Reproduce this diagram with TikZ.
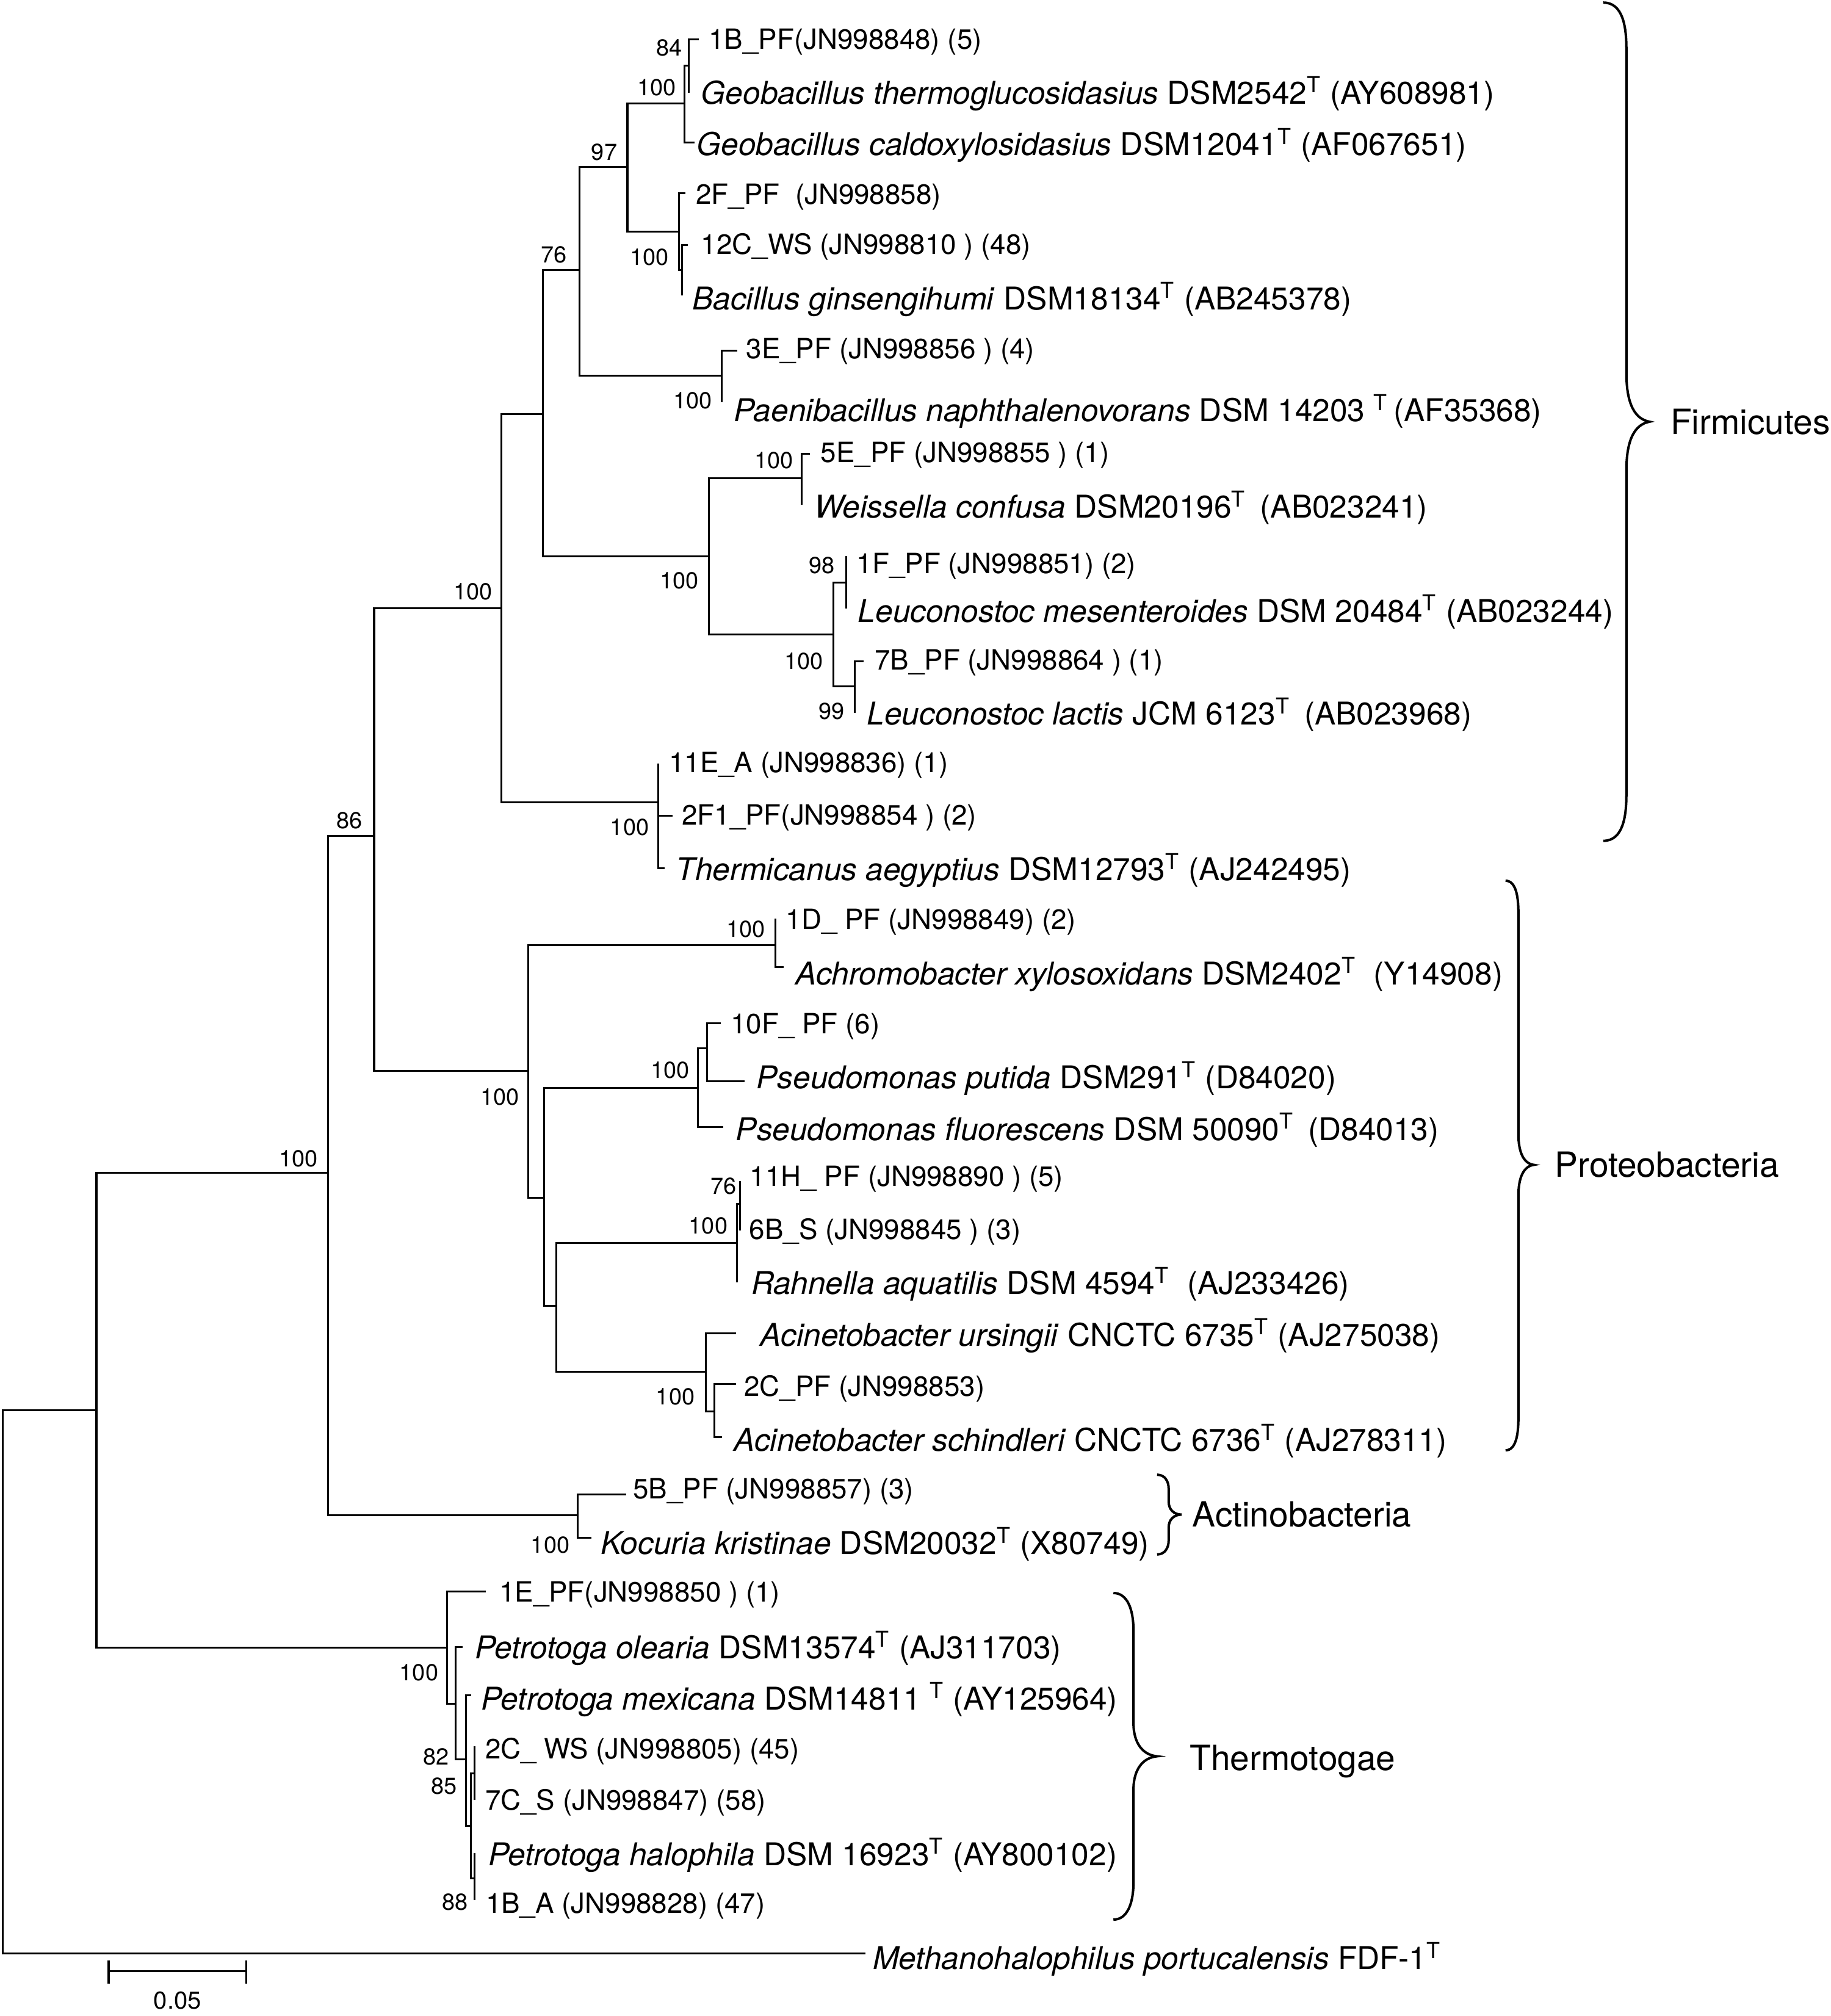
\documentclass[tikz,border=0pt]{standalone}
\usepackage{fontspec}
\setmainfont{TeX Gyre Heros}
\newcommand\fSp{\fontsize{12.2pt}{14pt}\selectfont}
\newcommand\fSt{\fontsize{10.85pt}{13pt}\selectfont}
\newcommand\fBs{\fontsize{9pt}{11pt}\selectfont}
\newcommand\fGr{\fontsize{13.5pt}{16pt}\selectfont}
\newcommand\fSc{\fontsize{9.5pt}{11pt}\selectfont}
\newcommand\Ty{\textsuperscript{T}}
\begin{document}
\begin{tikzpicture}[x=0.5pt,y=-0.5pt,
  br/.style={line width=0.72pt},
  brc/.style={line width=0.95pt},
  sp/.style={anchor=west,inner sep=0pt,text height=8.8pt,text depth=0pt,font=\fSp},
  st/.style={anchor=west,inner sep=0pt,text height=7.8pt,text depth=0pt,font=\fSt},
  bs/.style={inner sep=0pt,text height=6.5pt,text depth=0pt,font=\fBs},
  grp/.style={anchor=west,inner sep=0pt,text height=9.7pt,text depth=0pt,font=\fGr}]
\useasboundingbox (0,0) rectangle (1424,1568);
% internal nodes
\coordinate (R) at (2,1308);
\coordinate (A) at (75,1097);
\coordinate (B) at (255,912);
\coordinate (C) at (291,650);
\coordinate (D) at (390,473);
\coordinate (E) at (422.2,322.3);
\coordinate (F) at (450.7,210);
\coordinate (G) at (488,130);
\coordinate (H) at (532.5,80.6);
\coordinate (I) at (535.5,51);
\coordinate (J) at (528,180);
\coordinate (K) at (530.5,210);
\coordinate (L) at (561.5,292.4);
\coordinate (M) at (551.5,432.5);
\coordinate (N) at (623.7,372);
\coordinate (O) at (648.2,493.3);
\coordinate (Q) at (658.3,453);
\coordinate (P) at (664.8,534);
\coordinate (S) at (512,624.1);
\coordinate (T) at (411,833);
\coordinate (U) at (603,735.2);
\coordinate (V) at (423,931.7);
\coordinate (W) at (542.8,846.1);
\coordinate (X) at (549.8,815.5);
\coordinate (Y) at (432.8,1015.8);
\coordinate (Z) at (573.3,966.6);
\coordinate (Z2) at (575.5,936.6);
\coordinate (AA) at (548.9,1067.1);
\coordinate (AB) at (555.6,1097.9);
\coordinate (AC) at (449.4,1178.6);
\coordinate (AD) at (347.7,1281.4);
\coordinate (AE) at (354.5,1325);
\coordinate (AF) at (362.4,1368.4);
\coordinate (AG) at (366.4,1420);
\coordinate (AH) at (369.3,1379.5);
\coordinate (AI) at (369.3,1461);
% tips
\coordinate (t1) at (543.5,30.7);
\coordinate (t2) at (535.5,72);
\coordinate (t3) at (540,111);
\coordinate (t4) at (533,150.3);
\coordinate (t5) at (535,190.5);
\coordinate (t6) at (530.5,230);
\coordinate (t7) at (573.4,272.7);
\coordinate (t8) at (561.5,312.8);
\coordinate (t9) at (630,353);
\coordinate (t10) at (623.7,392.4);
\coordinate (t11) at (658.3,432.4);
\coordinate (t12) at (658.3,473.4);
\coordinate (t13) at (671.5,514.2);
\coordinate (t14) at (664.8,554.5);
\coordinate (t15) at (512,594);
\coordinate (t16) at (523,634.4);
\coordinate (t17) at (517,675.5);
\coordinate (t18) at (603,714.3);
\coordinate (t19) at (609.6,752.3);
\coordinate (t20) at (560.5,795.8);
\coordinate (t21) at (579.3,840.9);
\coordinate (t22) at (562.4,876.5);
\coordinate (t23) at (575.5,918.4);
\coordinate (t24) at (575.5,957.1);
\coordinate (t25) at (573.3,997.5);
\coordinate (t26) at (572.5,1037);
\coordinate (t27) at (572.5,1076.6);
\coordinate (t28) at (561.5,1117.7);
\coordinate (t29) at (487.1,1162.3);
\coordinate (t30) at (459.9,1196);
\coordinate (t31) at (378.1,1238);
\coordinate (t32) at (359.8,1281);
\coordinate (t33) at (366.7,1318.6);
\coordinate (t34) at (369.3,1358.2);
\coordinate (t35) at (369.3,1400);
\coordinate (t36) at (369.3,1441.2);
\coordinate (t37) at (369.3,1477.6);
\coordinate (t38) at (673,1519.5);
% branches
\foreach \p/\c in {R/A,R/t38,A/B,A/AD,B/C,B/AC,C/D,C/T,D/E,D/S,E/F,E/M,F/G,F/L,
  G/H,G/J,H/I,H/t3,I/t1,I/t2,J/t4,J/K,K/t5,K/t6,L/t7,L/t8,M/N,M/O,N/t9,N/t10,
  O/Q,O/P,Q/t11,Q/t12,P/t13,P/t14,S/t15,S/t16,S/t17,T/U,T/V,U/t18,U/t19,
  V/W,V/Y,W/X,W/t22,X/t20,X/t21,Y/Z,Y/AA,Z/Z2,Z/t25,Z2/t23,Z2/t24,AA/t26,AA/AB,
  AB/t27,AB/t28,AC/t29,AC/t30,AD/t31,AD/AE,AE/t32,AE/AF,AF/t33,AF/AG,AG/AH,AG/AI,
  AH/t34,AH/t35,AI/t36,AI/t37}
  \draw[br] (\p) |- (\c);
% leaf labels
\node[st] (l1) at (551,30.5) {1B\_PF(JN998848) (5)};
\node[sp] (l2) at (545,72) {\textit{Geobacillus thermoglucosidasius} DSM2542\Ty{} (AY608981)};
\node[sp] (l3) at (541.5,112) {\textit{Geobacillus caldoxylosidasius} DSM12041\Ty{} (AF067651)};
\node[st] (l4) at (541,151) {2F\_PF\ \ (JN998858)};
\node[st] (l5) at (545,190) {12C\_WS (JN998810 ) (48)};
\node[sp] (l6) at (538,232) {\textit{Bacillus ginsengihumi} DSM18134\Ty{} (AB245378)};
\node[st] (l7) at (580,271) {3E\_PF (JN998856 ) (4)};
\node[sp] (l8) at (570.5,319) {\textit{Paenibacillus naphthalenovorans} DSM 14203 \Ty\,(AF35368)};
\node[st] (l9) at (638,352) {5E\_PF (JN998855 ) (1)};
\node[sp] (l10) at (633,394) {\textit{Weissella confusa} DSM20196\Ty\ \,(AB023241)};
\node[st] (l11) at (666,438) {1F\_PF (JN998851) (2)};
\node[sp] (l12) at (667,475) {\textit{Leuconostoc mesenteroides} DSM 20484\Ty{} (AB023244)};
\node[st] (l13) at (680,513) {7B\_PF (JN998864 ) (1)};
\node[sp] (l14) at (674,555) {\textit{Leuconostoc lactis} JCM 6123\Ty\ \,(AB023968)};
\node[st] (l15) at (520,593) {11E\_A (JN998836) (1)};
\node[st] (l16) at (530,634) {2F1\_PF(JN998854 ) (2)};
\node[sp] (l17) at (525.5,676) {\textit{Thermicanus aegyptius} DSM12793\Ty{} (AJ242495)};
\node[st] (l18) at (611,715) {1D\_ PF (JN998849) (2)};
\node[sp] (l19) at (618.5,757) {\textit{Achromobacter xylosoxidans} DSM2402\Ty\ \ (Y14908)};
\node[st] (l20) at (568,796) {10F\_ PF (6)};
\node[sp] (l21) at (588,838) {\textit{Pseudomonas putida} DSM291\Ty{} (D84020)};
\node[sp] (l22) at (572,878) {\textit{Pseudomonas fluorescens} DSM 50090\Ty\ \,(D84013)};
\node[st] (l23) at (583,915) {11H\_ PF (JN998890 ) (5)};
\node[st] (l24) at (582.5,956) {6B\_S (JN998845 ) (3)};
\node[sp] (l25) at (584,998) {\textit{Rahnella aquatilis} DSM 4594\Ty\ \ (AJ233426)};
\node[sp] (l26) at (591,1038) {\textit{Acinetobacter ursingii} CNCTC 6735\Ty{} (AJ275038)};
\node[st] (l27) at (578.5,1078) {2C\_PF (JN998853)};
\node[sp] (l28) at (570.5,1120) {\textit{Acinetobacter schindleri} CNCTC 6736\Ty{} (AJ278311)};
\node[st] (l29) at (492,1158) {5B\_PF (JN998857) (3)};
\node[sp] (l30) at (467,1200) {\textit{Kocuria kristinae} DSM20032\Ty{} (X80749)};
\node[st] (l31) at (388,1238) {1E\_PF(JN998850 ) (1)};
\node[sp] (l32) at (369,1281) {\textit{Petrotoga olearia} DSM13574\Ty{} (AJ311703)};
\node[sp] (l33) at (374,1321) {\textit{Petrotoga mexicana} DSM14811 \Ty{} (AY125964)};
\node[st] (l34) at (377,1360) {2C\_ WS (JN998805) (45)};
\node[st] (l35) at (377,1400) {7C\_S (JN998847) (58)};
\node[sp] (l36) at (379.5,1442) {\textit{Petrotoga halophila} DSM 16923\Ty{} (AY800102)};
\node[st] (l37) at (377.5,1480) {1B\_A (JN998828) (47)};
\node[sp] (l38) at (678.5,1523) {\textit{Methanohalophilus portucalensis} FDF-1\Ty};
% bootstrap values
\node[bs] (b1) at (520.7,37) {84};
\node[bs] (b2) at (510.7,67.7) {100};
\node[bs] (b3) at (470,118) {97};
\node[bs] (b4) at (505,200) {100};
\node[bs] (b5) at (431,198) {76};
\node[bs] (b6) at (539,311.3) {100};
\node[bs] (b7) at (602,357.7) {100};
\node[bs] (b8) at (639.3,439.5) {98};
\node[bs] (b9) at (528.4,451.4) {100};
\node[bs] (b10) at (625.4,513.8) {100};
\node[bs] (b11) at (647,553) {99};
\node[bs] (b12) at (368,460) {100};
\node[bs] (b13) at (489.7,643.1) {100};
\node[bs] (b14) at (272,638) {86};
\node[bs] (b15) at (580.2,722.2) {100};
\node[bs] (b16) at (521.1,832.1) {100};
\node[bs] (b17) at (389,853) {100};
\node[bs] (b18) at (562.7,922.3) {76};
\node[bs] (b19) at (550.9,953.2) {100};
\node[bs] (b20) at (525.3,1086) {100};
\node[bs] (b21) at (232,901) {100};
\node[bs] (b22) at (428,1201.6) {100};
\node[bs] (b23) at (325.9,1300.4) {100};
\node[bs] (b24) at (339.3,1366) {82};
\node[bs] (b25) at (345.2,1389) {85};
\node[bs] (b26) at (353.8,1479.2) {88};
% braces
\draw[brc] (1247,2) .. controls (1262,2) and (1265,20) .. (1265,38) -- (1265,290)
  .. controls (1265,315) and (1272,326) .. (1283,328)
  .. controls (1272,330) and (1265,341) .. (1265,366) -- (1265,618)
  .. controls (1265,636) and (1262,654) .. (1247,654);
\node[grp] (g1) at (1299,328) {Firmicutes};
\draw[brc] (1171,685) .. controls (1179,685) and (1181,697) .. (1181,710) -- (1181,882)
  .. controls (1181,896) and (1185,905) .. (1193,906)
  .. controls (1185,907) and (1181,916) .. (1181,930) -- (1181,1103)
  .. controls (1181,1116) and (1179,1128) .. (1171,1128);
\node[grp] (g2) at (1209,906) {Proteobacteria};
\draw[brc] (900,1147) .. controls (906,1147) and (909,1152) .. (909,1158) -- (909,1168)
  .. controls (909,1174) and (913,1178) .. (919,1178)
  .. controls (913,1178) and (909,1182) .. (909,1188) -- (909,1198)
  .. controls (909,1204) and (906,1209) .. (900,1209);
\node[grp] (g3) at (927,1178) {Actinobacteria};
\draw[brc] (866,1239) .. controls (877,1239) and (881.6,1252) .. (881.6,1268) -- (881.6,1340)
  .. controls (881.6,1356) and (889,1365) .. (900,1366)
  .. controls (889,1367) and (881.6,1376) .. (881.6,1392) -- (881.6,1464)
  .. controls (881.6,1480) and (877,1493) .. (866,1493);
\node[grp] (g4) at (925,1367) {Thermotogae};
% scale bar
\coordinate (s1) at (84.5,1533);
\coordinate (s2) at (191.6,1533);
\draw[br] (s1) -- (s2);
\draw[br] (84.5,1525) -- (84.5,1543);
\draw[br] (191.6,1525) -- (191.6,1543);
\node[font=\fSc,inner sep=0pt] (sl) at (138,1556) {0.05};
\end{tikzpicture}
\end{document}
